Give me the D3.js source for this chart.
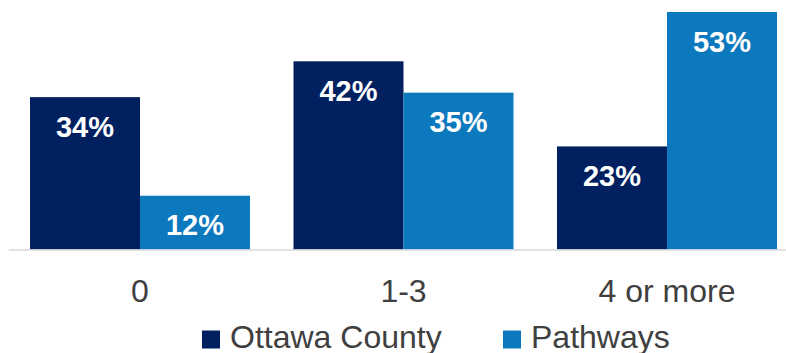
<!DOCTYPE html>
<html>
<head>
<meta charset="utf-8">
<script src="https://cdn.jsdelivr.net/npm/d3@7"></script>
<style>
  html, body { margin: 0; padding: 0; background: #ffffff; }
  svg { display: block; font-family: "Liberation Sans", Arial, sans-serif; }
</style>
</head>
<body>
<svg id="chart" width="786" height="353"></svg>
<script>
// Number of visits, share of respondents by group
const categories = ["0", "1-3", "4 or more"];
const seriesNames = ["Ottawa County", "Pathways"];
const ottawaCounty = [34, 42, 23];
const pathways = [12, 35, 53];
const seriesColors = ["#002060", "#0c78be"];

const rows = categories.map((c, i) => ({
  category: c,
  values: [
    { series: seriesNames[0], value: ottawaCounty[i] },
    { series: seriesNames[1], value: pathways[i] }
  ]
}));

const svg = d3.select("#chart");

const baselineY = 249.5;
const x0 = d3.scaleBand()
  .domain(categories)
  .range([8.25, 798.75])
  .paddingInner(0.1651)
  .paddingOuter(0.0826);

const x1 = d3.scaleBand()
  .domain(seriesNames)
  .range([0, x0.bandwidth()])
  .padding(0);

const y = d3.scaleLinear()
  .domain([0, 53])
  .range([baselineY, 12]);

const color = d3.scaleOrdinal().domain(seriesNames).range(seriesColors);

// Bars
const groups = svg.append("g")
  .selectAll("g")
  .data(rows)
  .join("g")
  .attr("transform", d => `translate(${x0(d.category)},0)`);

groups.selectAll("rect")
  .data(d => d.values)
  .join("rect")
  .attr("x", d => x1(d.series))
  .attr("y", d => y(d.value))
  .attr("width", x1.bandwidth())
  .attr("height", d => baselineY - y(d.value))
  .attr("fill", d => color(d.series));

// Value labels inside bar tops
groups.selectAll("text")
  .data(d => d.values)
  .join("text")
  .attr("x", d => x1(d.series) + x1.bandwidth() / 2)
  .attr("y", d => y(d.value) + 39.5)
  .attr("text-anchor", "middle")
  .attr("fill", "#ffffff")
  .attr("font-weight", "bold")
  .attr("font-size", 29)
  .text(d => d.value + "%");

// Category axis
const axis = svg.append("g")
  .attr("transform", `translate(0,${baselineY})`)
  .call(d3.axisBottom(x0).tickSize(0).tickPadding(0).tickSizeOuter(0));
axis.select(".domain")
  .attr("stroke", "#d9d9d9")
  .attr("stroke-width", 1.5);
axis.selectAll(".tick text")
  .attr("dy", null)
  .attr("y", 52.5)
  .attr("fill", "#404040")
  .attr("font-size", 32)
  .attr("font-family", "\"Liberation Sans\", Arial, sans-serif");

// Legend
const legendX = [202, 503];
const legend = svg.append("g")
  .selectAll("g")
  .data(seriesNames)
  .join("g")
  .attr("transform", (d, i) => `translate(${legendX[i]},330.5)`);
legend.append("rect")
  .attr("width", 18)
  .attr("height", 18)
  .attr("fill", d => color(d));
legend.append("text")
  .attr("x", 28)
  .attr("y", 17)
  .attr("fill", "#404040")
  .attr("font-size", 32)
  .text(d => d);
</script>
</body>
</html>
